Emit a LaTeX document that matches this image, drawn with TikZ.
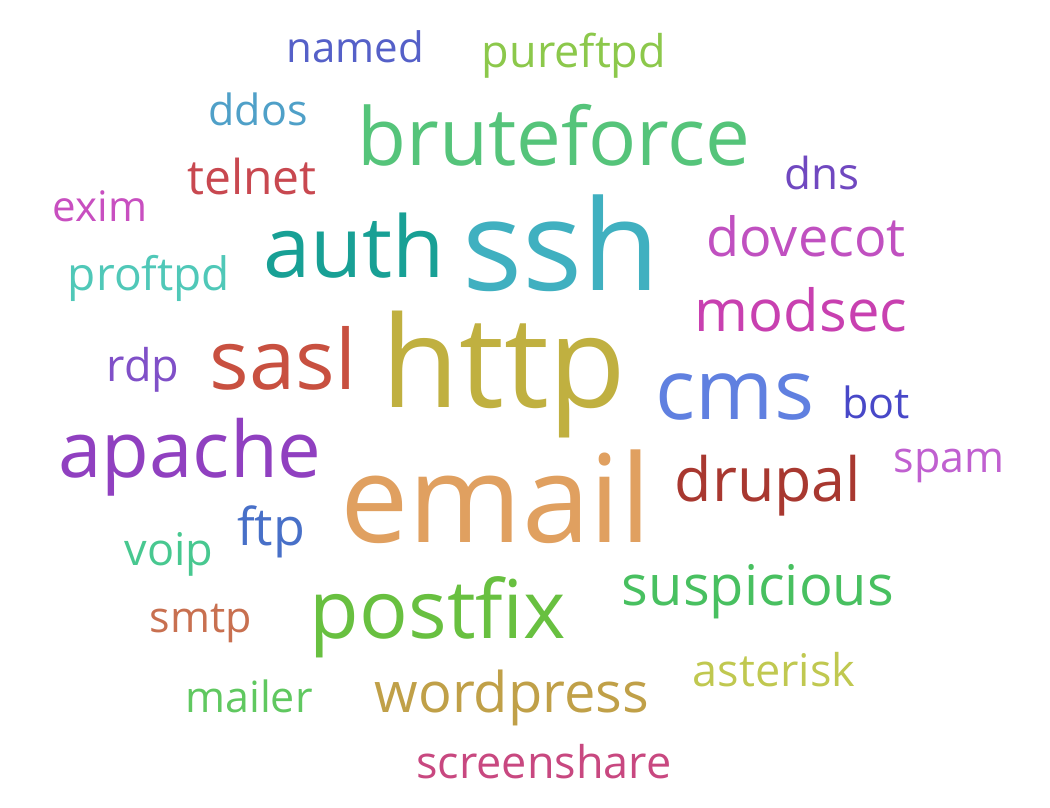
\documentclass[tikz,border=0pt]{standalone}
\usepackage{fontspec}
\setmainfont{Open Sans}
\newcommand{\wfs}[1]{\fontsize{#1}{#1}\selectfont}
\definecolor{cNamed}{HTML}{5560C8}
\definecolor{cPure}{HTML}{8CC84B}
\definecolor{cDdos}{HTML}{4FA0C8}
\definecolor{cBrute}{HTML}{55C47A}
\definecolor{cTelnet}{HTML}{C84850}
\definecolor{cDns}{HTML}{7048C0}
\definecolor{cExim}{HTML}{C84FC0}
\definecolor{cAuth}{HTML}{18A095}
\definecolor{cSsh}{HTML}{40B0C0}
\definecolor{cDove}{HTML}{C050C0}
\definecolor{cProf}{HTML}{50C8B8}
\definecolor{cMod}{HTML}{C840B0}
\definecolor{cRdp}{HTML}{8050C8}
\definecolor{cSasl}{HTML}{C85040}
\definecolor{cHttp}{HTML}{C0B040}
\definecolor{cCms}{HTML}{6080E0}
\definecolor{cBot}{HTML}{4848C8}
\definecolor{cApache}{HTML}{9040C0}
\definecolor{cSpam}{HTML}{C060D0}
\definecolor{cDrupal}{HTML}{A83830}
\definecolor{cEmail}{HTML}{E0A060}
\definecolor{cFtp}{HTML}{4870C8}
\definecolor{cVoip}{HTML}{48C890}
\definecolor{cSusp}{HTML}{48C060}
\definecolor{cSmtp}{HTML}{C87050}
\definecolor{cPostfix}{HTML}{68C040}
\definecolor{cAster}{HTML}{C0C850}
\definecolor{cMailer}{HTML}{60C860}
\definecolor{cWord}{HTML}{C0A048}
\definecolor{cScreen}{HTML}{C84880}

\begin{document}
\begin{tikzpicture}[
  x=1pt,y=-1pt,
  w/.style={anchor=base,inner sep=0pt}]

\useasboundingbox (0,0) rectangle (1050,808);

\node[w,text=cNamed,font=\wfs{42}] (named) at (355,63) {named};
\node[w,text=cPure,font=\wfs{45}] (pureftpd) at (574,67) {pureftpd};
\node[w,text=cDdos,font=\wfs{43}] (ddos) at (258,125) {ddos};
\node[w,text=cBrute,font=\wfs{80}] (bruteforce) at (554,165) {bruteforce};
\node[w,text=cTelnet,font=\wfs{48}] (telnet) at (252,194) {telnet};
\node[w,text=cDns,font=\wfs{44}] (dns) at (822,189) {dns};
\node[w,text=cExim,font=\wfs{42}] (exim) at (100,221) {exim};
\node[w,text=cAuth,font=\wfs{85}] (auth) at (354,277) {auth};
\node[w,text=cSsh,font=\wfs{126}] (ssh) at (561,290) {ssh};
\node[w,text=cDove,font=\wfs{54}] (dovecot) at (806,256) {dovecot};
\node[w,text=cProf,font=\wfs{46}] (proftpd) at (149,290) {proftpd};
\node[w,text=cMod,font=\wfs{58}] (modsec) at (801,331) {modsec};
\node[w,text=cRdp,font=\wfs{45}] (rdp) at (143,381) {rdp};
\node[w,text=cSasl,font=\wfs{83}] (sasl) at (283,389) {sasl};
\node[w,text=cHttp,font=\wfs{127}] (http) at (504,407) {http};
\node[w,text=cCms,font=\wfs{84}] (cms) at (735,419) {cms};
\node[w,text=cBot,font=\wfs{43}] (bot) at (876,418) {bot};
\node[w,text=cApache,font=\wfs{78}] (apache) at (190,477) {apache};
\node[w,text=cSpam,font=\wfs{43}] (spam) at (949,472) {spam};
\node[w,text=cDrupal,font=\wfs{61}] (drupal) at (768,501) {drupal};
\node[w,text=cEmail,font=\wfs{122}] (email) at (496,542) {email};
\node[w,text=cFtp,font=\wfs{52}] (ftp) at (271,545) {ftp};
\node[w,text=cVoip,font=\wfs{45}] (voip) at (169,565) {voip};
\node[w,text=cSusp,font=\wfs{56}] (suspicious) at (758,605) {suspicious};
\node[w,text=cSmtp,font=\wfs{43}] (smtp) at (201,632) {smtp};
\node[w,text=cPostfix,font=\wfs{81}] (postfix) at (438,638) {postfix};
\node[w,text=cAster,font=\wfs{45}] (asterisk) at (774,686) {asterisk};
\node[w,text=cMailer,font=\wfs{43}] (mailer) at (249,712) {mailer};
\node[w,text=cWord,font=\wfs{56}] (wordpress) at (512,712) {wordpress};
\node[w,text=cScreen,font=\wfs{45}] (screenshare) at (544,778) {screenshare};
\end{tikzpicture}
\end{document}
